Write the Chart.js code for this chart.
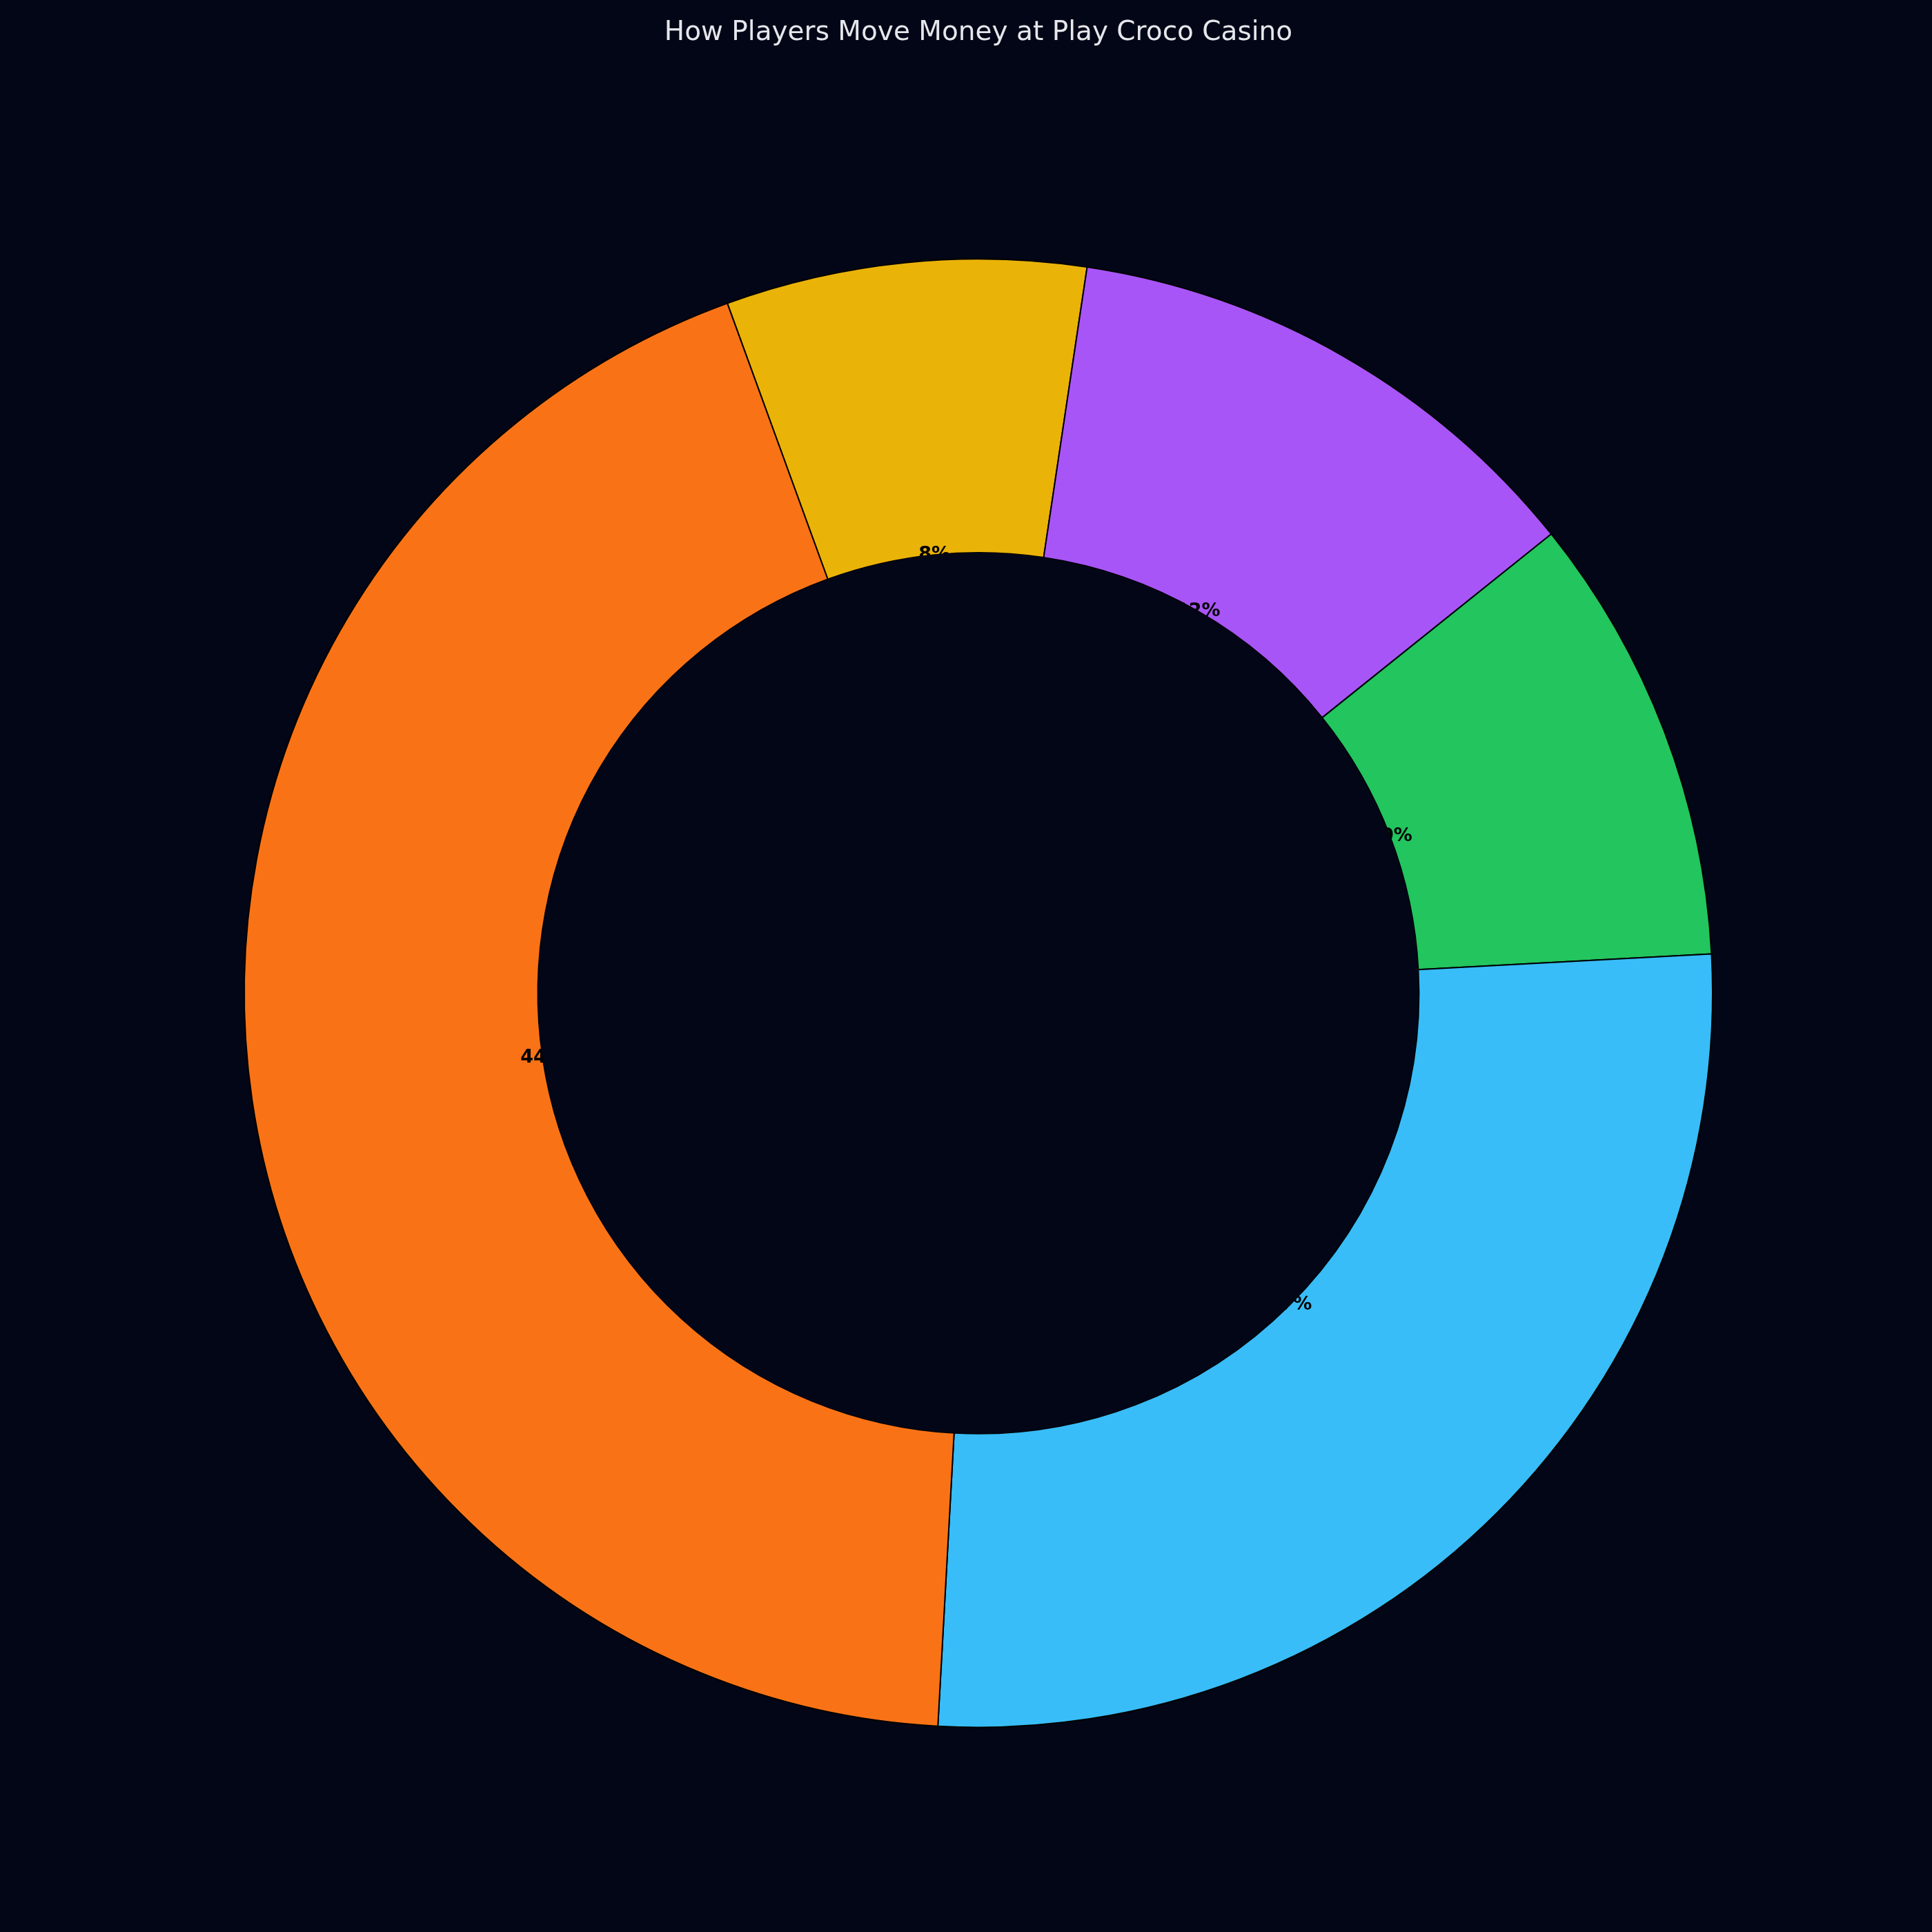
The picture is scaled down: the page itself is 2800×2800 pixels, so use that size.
<!DOCTYPE html>
<html>
<head>
<meta charset="utf-8">
<script src="https://cdn.jsdelivr.net/npm/chart.js@4.4.1/dist/chart.umd.min.js"></script>
<style>
  html, body { margin: 0; padding: 0; background: #020617; }
  #wrap { width: 2800px; height: 2800px; position: relative; }
</style>
</head>
<body>
<div id="wrap"><canvas id="c"></canvas></div>
<script>
// Data (matplotlib order, counter-clockwise from startangle 110°)
const categories = ['Method A', 'Method B', 'Method C', 'Method D', 'Method E'];
const values = [44, 27, 10, 12, 8];
const colors = ['#F97316', '#38BDF8', '#22C55E', '#A855F7', '#EAB308'];
const titleText = 'How Players Move Money at Play Croco Casino';

const BG = '#020617';
const total = values.reduce((a, b) => a + b, 0);
const pctLabels = values.map(v => Math.round(v / total * 100) + '%');

// Chart.js draws clockwise, so reverse order
const cjLabels = categories.slice().reverse();
const cjValues = values.slice().reverse();
const cjColors = colors.slice().reverse();
const cjPct = pctLabels.slice().reverse();

const labelPlugin = {
  id: 'pctLabels',
  afterDatasetsDraw(chart) {
    const ctx = chart.ctx;
    const meta = chart.getDatasetMeta(0);
    ctx.save();
    ctx.font = 'bold 27px "DejaVu Sans"';
    ctx.fillStyle = '#000000';
    ctx.textAlign = 'center';
    ctx.textBaseline = 'middle';
    let cx = 0, cy = 0, inner = 0;
    meta.data.forEach((arc, i) => {
      const p = arc.getProps(['x', 'y', 'startAngle', 'endAngle', 'innerRadius', 'outerRadius'], true);
      const mid = (p.startAngle + p.endAngle) / 2;
      const r = p.outerRadius * 0.6;
      ctx.fillText(cjPct[i], p.x + Math.cos(mid) * r, p.y + Math.sin(mid) * r);
      cx = p.x; cy = p.y; inner = p.innerRadius;
    });
    // centre circle (drawn over the labels, as in the reference)
    ctx.beginPath();
    ctx.arc(cx, cy, inner, 0, Math.PI * 2);
    ctx.fillStyle = BG;
    ctx.fill();
    ctx.restore();
  }
};

const bgPlugin = {
  id: 'bg',
  beforeDraw(chart) {
    const ctx = chart.ctx;
    ctx.save();
    ctx.fillStyle = BG;
    ctx.fillRect(0, 0, chart.width, chart.height);
    ctx.restore();
  }
};

new Chart(document.getElementById('c'), {
  type: 'doughnut',
  data: {
    labels: cjLabels,
    datasets: [{
      data: cjValues,
      backgroundColor: cjColors,
      borderColor: '#000000',
      borderWidth: 2,
      hoverOffset: 0
    }]
  },
  options: {
    responsive: true,
    maintainAspectRatio: false,
    devicePixelRatio: 1,
    animation: false,
    rotation: -20,
    cutout: '60%',
    radius: 1064,
    layout: { padding: { left: 36, right: 0, top: 0, bottom: 10 } },
    plugins: {
      legend: { display: false },
      tooltip: { enabled: false },
      title: {
        display: true,
        text: titleText,
        color: '#E5E7EB',
        font: { family: 'DejaVu Sans', size: 39, weight: 'normal', lineHeight: 1.2 },
        padding: { top: 24, bottom: 18 }
      }
    }
  },
  plugins: [bgPlugin, labelPlugin]
});
</script>
</body>
</html>
